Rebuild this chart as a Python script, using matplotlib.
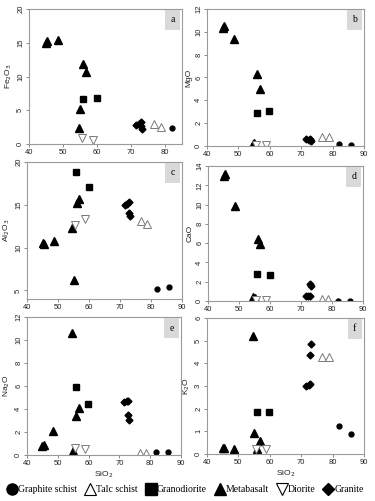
import numpy as np
import matplotlib
matplotlib.use("Agg")
import matplotlib.pyplot as plt
from matplotlib.lines import Line2D

nan = np.nan

# SiO2 of each sample, by rock type
rocks = ["Graphite schist", "Talc schist", "Granodiorite", "Metabasalt", "Diorite", "Granite"]
sio2 = {
    "Graphite schist": [82.0, 85.9],
    "Talc schist": [76.7, 78.7],
    "Granodiorite": [55.8, 59.9],
    "Metabasalt": [45.0, 45.4, 48.6, 54.6, 55.0, 56.0, 56.8],
    "Diorite": [55.5, 58.7],
    "Granite": [71.6, 72.4, 72.8, 72.9, 73.2],
}

# oxide values
fe2o3 = {
    "Graphite schist": [2.4, nan],
    "Talc schist": [2.9, 2.5],
    "Granodiorite": [6.7, 6.8],
    "Metabasalt": [14.9, 15.2, 15.4, 2.4, 5.2, 11.9, 10.6],
    "Diorite": [0.95, 0.6],
    "Granite": [2.8, 3.0, 3.3, 2.6, 2.2],
}
mgo = {
    "Graphite schist": [0.15, 0.12],
    "Talc schist": [0.8, 0.8],
    "Granodiorite": [2.9, 3.05],
    "Metabasalt": [10.35, 10.5, 9.35, 0.15, 0.25, 6.3, 5.0],
    "Diorite": [0.05, 0.05],
    "Granite": [0.6, 0.55, 0.6, 0.5, 0.45],
}
al2o3 = {
    "Graphite schist": [5.15, 5.45],
    "Talc schist": [13.1, 12.8],
    "Granodiorite": [18.8, 17.1],
    "Metabasalt": [10.5, 10.4, 10.8, 12.3, 6.2, 15.2, 15.7],
    "Diorite": [12.6, 13.3],
    "Granite": [15.0, 15.1, 15.3, 14.1, 13.7],
}
cao = {
    "Graphite schist": [0.05, 0.05],
    "Talc schist": [0.2, 0.2],
    "Granodiorite": [2.8, 2.65],
    "Metabasalt": [13.0, 13.2, 9.9, 0.45, 0.3, 6.4, 5.9],
    "Diorite": [0.1, 0.1],
    "Granite": [0.5, 0.5, 0.55, 1.8, 1.6],
}
na2o = {
    "Graphite schist": [0.3, 0.3],
    "Talc schist": [0.15, 0.15],
    "Granodiorite": [5.9, 4.4],
    "Metabasalt": [0.8, 0.85, 2.1, 10.6, 0.35, 3.4, 4.05],
    "Diorite": [0.62, 0.5],
    "Granite": [4.65, 4.7, 4.7, 3.5, 3.05],
}
k2o = {
    "Graphite schist": [1.22, 0.88],
    "Talc schist": [4.28, 4.28],
    "Granodiorite": [1.85, 1.85],
    "Metabasalt": [0.28, 0.25, 0.2, 5.2, 0.92, 0.22, 0.56],
    "Diorite": [0.2, 0.2],
    "Granite": [2.98, 3.03, 3.08, 4.35, 4.87],
}

W, H = 375, 501
fig = plt.figure(figsize=(W / 100, H / 100), dpi=100)
plt.rcParams['font.family'] = ['Liberation Sans', 'DejaVu Sans']

styles = {
    "Graphite schist": dict(marker='o', ms=3.5, mfc='k', mec='k'),
    "Talc schist": dict(marker='^', ms=6, mfc='white', mec='#7a7a7a', mew=0.7),
    "Granodiorite": dict(marker='s', ms=5, mfc='k', mec='k'),
    "Metabasalt": dict(marker='^', ms=6, mfc='k', mec='k'),
    "Diorite": dict(marker='v', ms=6, mfc='white', mec='#7a7a7a', mew=0.7),
    "Granite": dict(marker='D', ms=3.5, mfc='k', mec='k'),
}

# panel: (letter, data, ylabel, ylim, yticks, xlim, xticks, box in px l r t b)
panels = [
    ('a', fe2o3, 'Fe$_2$O$_3$', (0, 20), range(0, 21, 5), (40, 85), range(40, 81, 10), (29, 182, 9, 144)),
    ('b', mgo, 'MgO', (0, 12), range(0, 13, 2), (40, 90), range(40, 91, 10), (207, 364, 9, 146)),
    ('c', al2o3, 'Al$_2$O$_3$', (4, 20), range(5, 21, 5), (40, 90), range(40, 91, 10), (27, 182, 162, 299)),
    ('d', cao, 'CaO', (0, 14), range(0, 15, 2), (40, 90), range(40, 91, 10), (208, 363, 166, 301)),
    ('e', na2o, 'Na$_2$O', (0, 12), range(0, 13, 2), (40, 90), range(40, 91, 10), (27, 181, 317, 455)),
    ('f', k2o, 'K$_2$O', (0, 6), range(0, 7, 1), (40, 90), range(40, 91, 10), (207, 364, 318, 454)),
]

for letter, data, ylab, ylim, yt, xlim, xt, (l, r, t, b) in panels:
    ax = fig.add_axes([l / W, 1 - b / H, (r - l) / W, (b - t) / H])
    for rock in rocks:
        ax.plot(sio2[rock], data[rock], linestyle='none', clip_on=True, **styles[rock])
    ax.set_xlim(*xlim)
    ax.set_ylim(*ylim)
    ax.set_xticks(list(xt))
    ax.set_yticks(list(yt))
    for s in ax.spines.values():
        s.set_color('#9a9a9a')
        s.set_linewidth(0.8)
    ax.tick_params(labelsize=5.5, length=2, width=0.6, color='#7a7a7a', pad=1.5, labelcolor='#222222')
    for lab in ax.get_yticklabels():
        lab.set_rotation(90)
        lab.set_va('center')
    ax.set_ylabel(ylab, fontsize=6, labelpad=2, color='#222222')
    if letter in 'ef':
        ax.set_xlabel('SiO$_2$', fontsize=6, labelpad=2, color='#222222')
    ax.text(0.94, 0.92, letter, transform=ax.transAxes, ha='center', va='center',
            fontsize=7, family='Liberation Serif',
            bbox=dict(boxstyle='square,pad=0.55', fc='#d9d9d9', ec='none'))

# legend
leg_styles = {
    "Graphite schist": dict(marker='o', ms=8, mfc='k', mec='k'),
    "Talc schist": dict(marker='^', ms=8, mfc='white', mec='k', mew=0.8),
    "Granodiorite": dict(marker='s', ms=8, mfc='k', mec='k'),
    "Metabasalt": dict(marker='^', ms=8, mfc='k', mec='k'),
    "Diorite": dict(marker='v', ms=8, mfc='white', mec='k', mew=0.8),
    "Granite": dict(marker='D', ms=6.5, mfc='k', mec='k'),
}
handles = [Line2D([], [], linestyle='none', **leg_styles[r]) for r in rocks]
fig.legend(handles, rocks, loc='center', bbox_to_anchor=(0.495, 1 - 490 / H), ncol=6,
           frameon=False, prop={'family': 'Liberation Serif', 'size': 7},
           handlelength=0.9, handletextpad=0.15, columnspacing=0.9, borderpad=0)

fig.savefig('out.png', dpi=100)
